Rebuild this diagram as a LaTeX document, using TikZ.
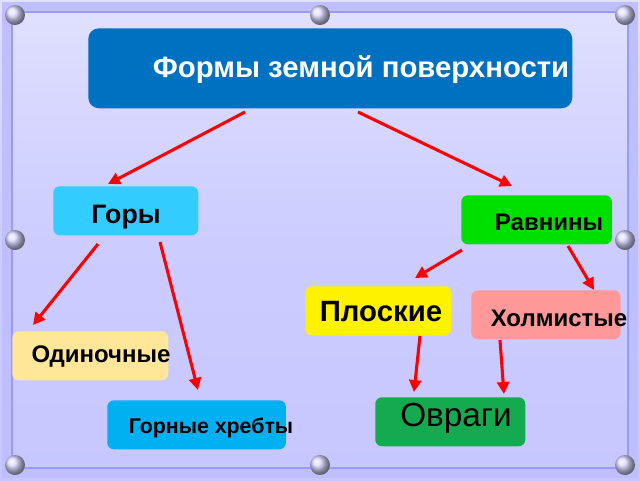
\documentclass[tikz,border=0pt]{standalone}
\usepackage{fontspec}
\setmainfont{Liberation Sans}
\usetikzlibrary{arrows.meta}
\begin{document}
\begin{tikzpicture}[x=0.75pt,y=-0.75pt,
  box/.style={rounded corners=5pt,minimum height=36.75pt,inner sep=0pt,anchor=north west},
  lbl/.style={inner sep=0pt,font=\bfseries\fontsize{#1}{#1}\selectfont},
  arr/.style={draw=red,line width=2.3pt,-{Triangle[length=9pt,width=9pt]}},
  knob/.style={ball color=blue!15!white,draw=none}]
\useasboundingbox (0,0) rectangle (640,480);
\shade[top color=blue!12!white,bottom color=blue!22!white,middle color=white!80!blue] (0,0) rectangle (640,480);
\draw[line width=7pt,draw=blue!25!white] (7,7) rectangle (633,473);
\draw[line width=1pt,draw=blue!40!white] (12,12) rectangle (628,468);
\foreach \p in {(15,15),(625,15),(15,465),(625,465),(15,240),(625,240),(320,15),(320,465)}
  \shade[knob] \p circle (10);
% boxes
\node[box,fill={rgb,255:red,0;green,112;blue,192},minimum width=363pt,minimum height=60pt,rounded corners=8pt] (t) at (88,28) {};
\node[lbl=22,text=white] (tt) at (361,70) {Формы земной поверхности};
\node[box,fill={rgb,255:red,51;green,204;blue,255},minimum width=108.75pt] (g) at (53,186) {};
\node[lbl=20] (gt) at (126,217) {Горы};
\node[box,fill={rgb,255:red,0;green,224;blue,0},minimum width=113pt] (r) at (461,195) {};
\node[lbl=18] (rt) at (549,222) {Равнины};
\node[box,fill=yellow,minimum width=109.5pt] (p) at (305,286) {};
\node[lbl=22] (pt) at (381,312) {Плоские};
\node[box,fill={rgb,255:red,255;green,153;blue,153},minimum width=112pt] (h) at (471,290) {};
\node[lbl=18] (ht) at (559,318) {Холмистые};
\node[box,fill={rgb,255:red,255;green,230;blue,153},minimum width=117pt] (o) at (12,331) {};
\node[lbl=18] (ot) at (101,357) {Одиночные};
\node[box,fill={rgb,255:red,0;green,176;blue,240},minimum width=134pt] (k) at (107,400) {};
\node[lbl=16] (kt) at (211,428) {Горные хребты};
\node[box,fill={rgb,255:red,20;green,170;blue,80},minimum width=112.5pt] (v) at (375,397) {};
\node[inner sep=0pt,font=\fontsize{25}{25}\selectfont] (vt) at (456,418) {Овраги};
% arrows
\coordinate (a1) at (245,112); \coordinate (b1) at (108,184);
\coordinate (a2) at (358,112); \coordinate (b2) at (512,186);
\coordinate (a3) at (98,244);  \coordinate (b3) at (33,325);
\coordinate (a4) at (160,242); \coordinate (b4) at (198,390);
\coordinate (a5) at (462,250); \coordinate (b5) at (415,278);
\coordinate (a6) at (568,246); \coordinate (b6) at (594,290);
\coordinate (a7) at (420,336); \coordinate (b7) at (414,392);
\coordinate (a8) at (500,340); \coordinate (b8) at (504,394);
\foreach \i in {1,...,8} \draw[arr] (a\i) -- (b\i);
\end{tikzpicture}
\end{document}
